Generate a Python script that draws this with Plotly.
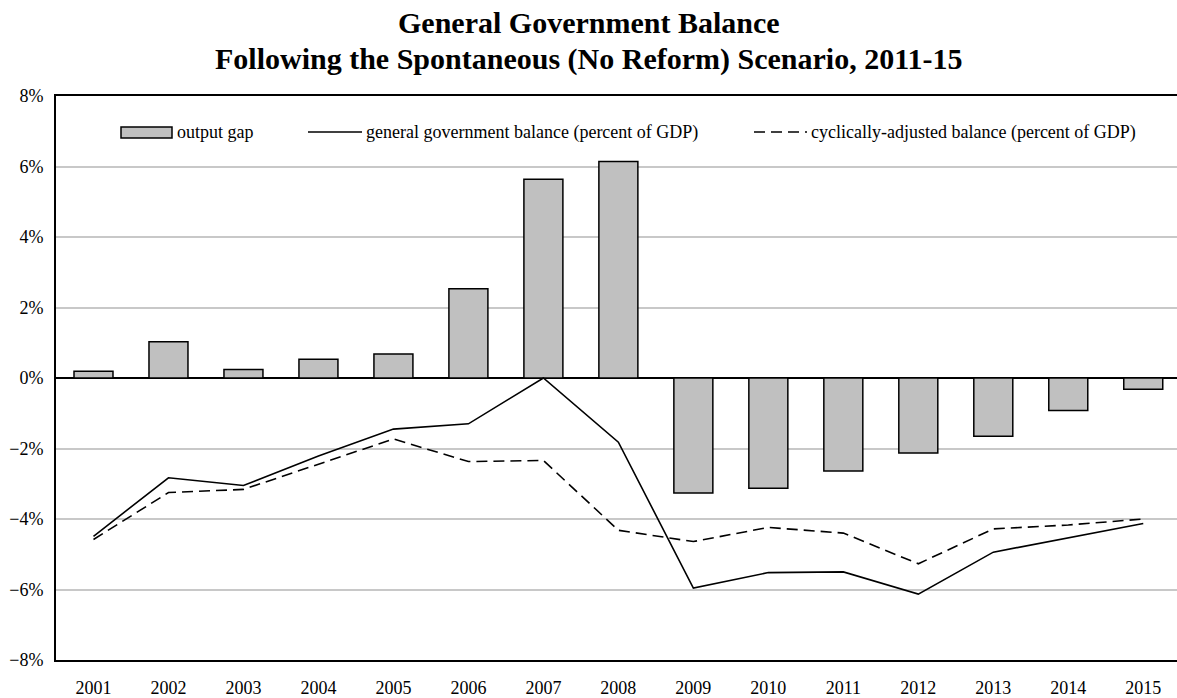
import plotly.graph_objects as go

# Years and series (percent)
years = [str(y) for y in range(2001, 2016)]
output_gap = [0.19, 1.03, 0.24, 0.53, 0.68, 2.53, 5.64, 6.14,
              -3.26, -3.13, -2.64, -2.13, -1.65, -0.92, -0.32]
gov_balance = [-4.49, -2.83, -3.05, -2.21, -1.45, -1.30, 0.0, -1.82,
               -5.96, -5.52, -5.50, -6.13, -4.94, -4.54, -4.13]
cyc_adj_balance = [-4.58, -3.25, -3.16, -2.44, -1.73, -2.37, -2.34, -4.32,
                   -4.64, -4.24, -4.40, -5.27, -4.28, -4.17, -4.00]
y_ticks = [-8, -6, -4, -2, 0, 2, 4, 6, 8]
y_tick_text = ["\u22128%", "\u22126%", "\u22124%", "\u22122%", "0%", "2%", "4%", "6%", "8%"]

title_lines = ["General Government Balance",
               "Following the Spontaneous (No Reform) Scenario, 2011-15"]
legend_labels = ["output gap",
                 "general government balance (percent of GDP)",
                 "cyclically-adjusted balance (percent of GDP)"]

W, H = 1177, 698
M_L, M_R, M_T, M_B = 56, 0, 96, 38
PW, PH = W - M_L - M_R, H - M_T - M_B
FONT = "Liberation Serif, Times New Roman, serif"
DASH = "11px,6px"


def px_x(p):
    return (p - M_L) / PW


def px_y(p):
    return (H - M_B - p) / PH


fig = go.Figure()
fig.add_trace(go.Bar(
    x=years, y=output_gap, width=0.52,
    marker=dict(color="#c0c0c0", line=dict(color="#000000", width=1.5)),
    name=legend_labels[0], showlegend=False,
))
fig.add_trace(go.Scatter(
    x=years, y=gov_balance, mode="lines",
    line=dict(color="#000000", width=1.6),
    name=legend_labels[1], showlegend=False,
))
fig.add_trace(go.Scatter(
    x=years, y=cyc_adj_balance, mode="lines",
    line=dict(color="#000000", width=1.6, dash=DASH),
    name=legend_labels[2], showlegend=False,
))

shapes = []
annotations = []

# Legend drawn inside the plot area
leg_y = 132
shapes.append(dict(type="rect", xref="paper", yref="paper",
                   x0=px_x(121), x1=px_x(172), y0=px_y(138), y1=px_y(127),
                   fillcolor="#c0c0c0", line=dict(color="#000000", width=1.5)))
shapes.append(dict(type="line", xref="paper", yref="paper",
                   x0=px_x(308), x1=px_x(362), y0=px_y(leg_y), y1=px_y(leg_y),
                   line=dict(color="#000000", width=1.6)))
shapes.append(dict(type="line", xref="paper", yref="paper",
                   x0=px_x(754), x1=px_x(807), y0=px_y(leg_y), y1=px_y(leg_y),
                   line=dict(color="#000000", width=1.6, dash=DASH)))
for x0, label in zip([175, 364, 809], legend_labels):
    annotations.append(dict(x=px_x(x0), y=px_y(leg_y), xref="paper", yref="paper",
                            text=label, showarrow=False, xanchor="left", yanchor="middle",
                            font=dict(family=FONT, size=18, color="#000000")))

# Two-line bold title
for yy, line in zip([22, 59], title_lines):
    annotations.append(dict(x=px_x(W / 2), y=px_y(yy), xref="paper", yref="paper",
                            text="<b>" + line + "</b>", showarrow=False,
                            xanchor="center", yanchor="middle",
                            font=dict(family=FONT, size=30, color="#000000")))

fig.update_layout(
    width=W, height=H,
    margin=dict(l=M_L, r=M_R, t=M_T, b=M_B, pad=0),
    paper_bgcolor="#ffffff", plot_bgcolor="#ffffff",
    font=dict(family=FONT, size=18, color="#000000"),
    bargap=0.48,
    shapes=shapes, annotations=annotations,
)
fig.update_xaxes(
    type="category", range=[-0.5, 14.45],
    showline=True, linecolor="#000000", linewidth=2, mirror=True,
    showgrid=False, ticks="", ticklabelstandoff=10,
    tickfont=dict(family=FONT, size=18, color="#000000"),
)
fig.update_yaxes(
    range=[-8, 8], tickvals=y_ticks, ticktext=y_tick_text,
    showline=True, linecolor="#000000", linewidth=2, mirror=False,
    showgrid=True, gridcolor="#c8c8c8", gridwidth=1.5,
    zeroline=True, zerolinecolor="#000000", zerolinewidth=1.5,
    ticks="", ticklabelstandoff=7,
    tickfont=dict(family=FONT, size=18, color="#000000"),
)

fig.write_html("out.html")
